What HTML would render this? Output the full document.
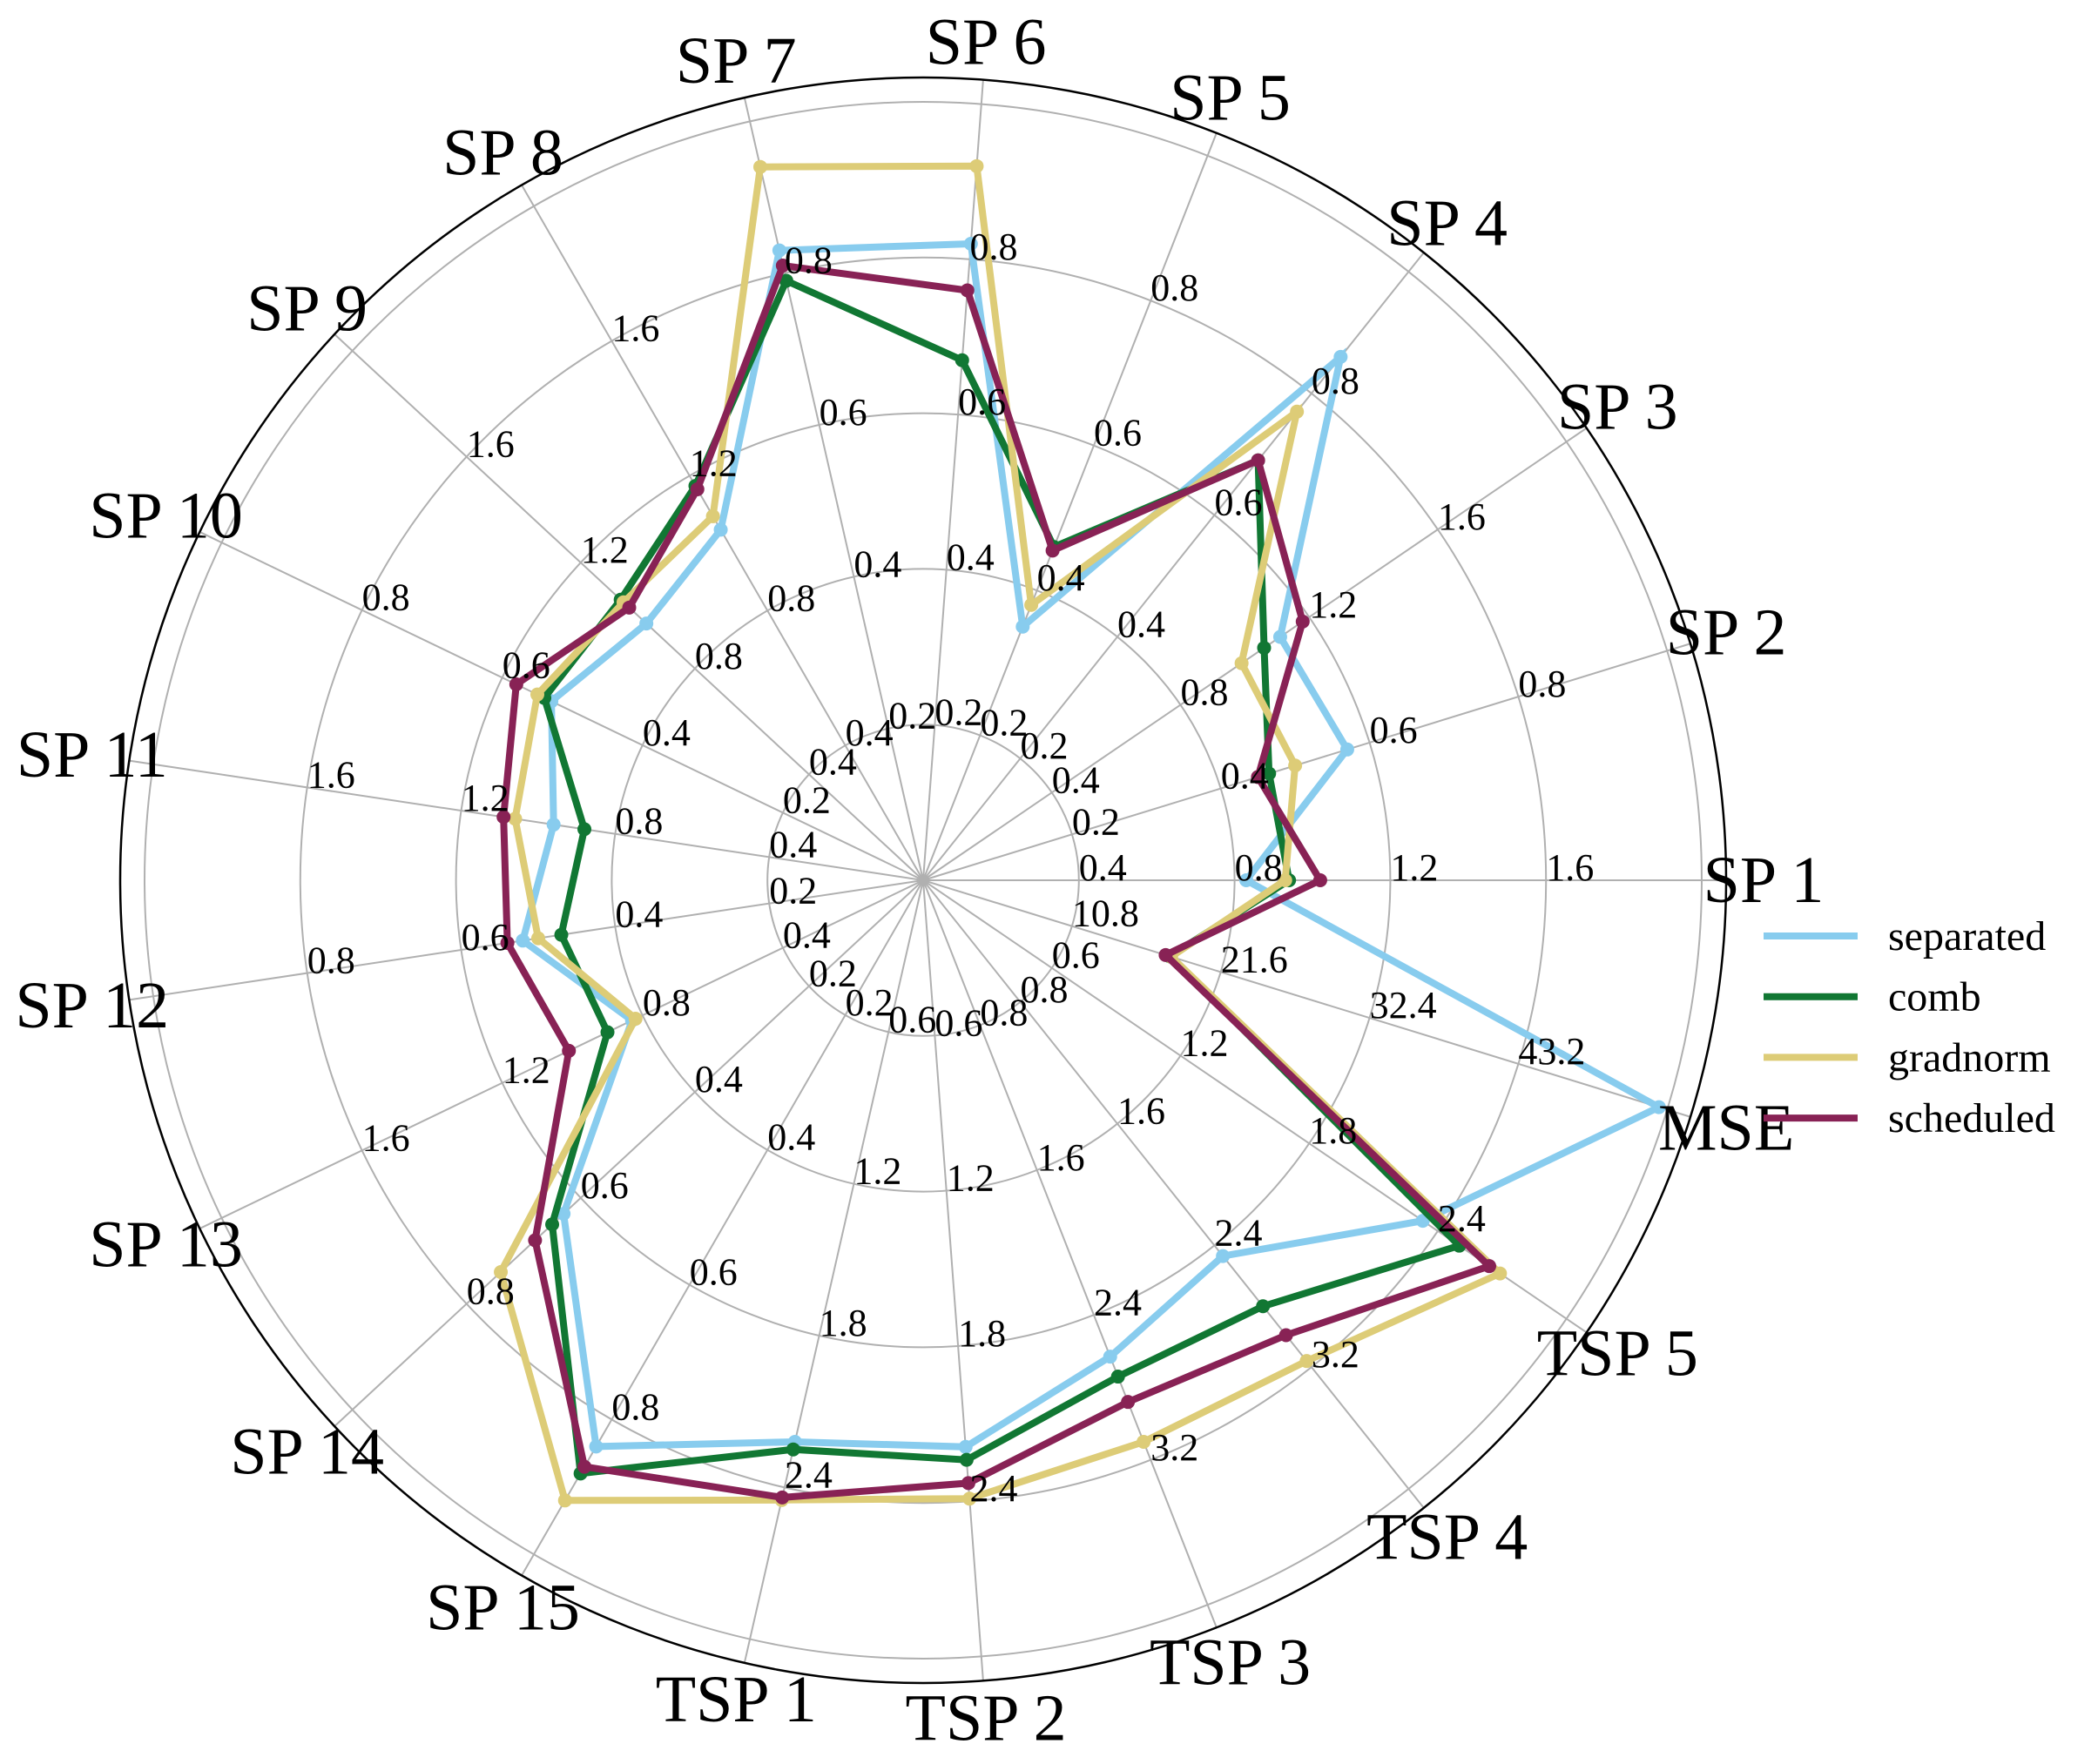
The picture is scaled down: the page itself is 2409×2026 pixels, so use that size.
<!DOCTYPE html>
<html><head><meta charset="utf-8"><style>
html,body{margin:0;padding:0;background:#fff;}
svg{display:block;font-family:"Liberation Serif",serif;}
</style></head><body>
<svg id="chart" width="2409" height="2026" viewBox="0 0 2409 2026" xmlns="http://www.w3.org/2000/svg">
<g id="grid"></g>
<g id="series"></g>
<g id="labels"></g>
<g id="legend"></g>
</svg>
<script>
const categories = ["SP 1","SP 2","SP 3","SP 4","SP 5","SP 6","SP 7","SP 8","SP 9","SP 10","SP 11","SP 12","SP 13","SP 14","SP 15","TSP 1","TSP 2","TSP 3","TSP 4","TSP 5","MSE"];
const tickUnits = [0.4,0.2,0.4,0.2,0.2,0.2,0.2,0.4,0.4,0.2,0.4,0.2,0.4,0.2,0.2,0.6,0.6,0.8,0.8,0.6,10.8];
const tickLabels = [
 ["0.4","0.8","1.2","1.6"],["0.2","0.4","0.6","0.8"],["0.4","0.8","1.2","1.6"],["0.2","0.4","0.6","0.8"],
 ["0.2","0.4","0.6","0.8"],["0.2","0.4","0.6","0.8"],["0.2","0.4","0.6","0.8"],["0.4","0.8","1.2","1.6"],
 ["0.4","0.8","1.2","1.6"],["0.2","0.4","0.6","0.8"],["0.4","0.8","1.2","1.6"],["0.2","0.4","0.6","0.8"],
 ["0.4","0.8","1.2","1.6"],["0.2","0.4","0.6","0.8"],["0.2","0.4","0.6","0.8"],["0.6","1.2","1.8","2.4"],
 ["0.6","1.2","1.8","2.4"],["0.8","1.6","2.4","3.2"],["0.8","1.6","2.4","3.2"],["0.6","1.2","1.8","2.4"],
 ["10.8","21.6","32.4","43.2"]];
const seriesNames = ["separated","comb","gradnorm","scheduled"];
const seriesColors = ["#88ccee","#117733","#ddcc77","#882255"];
const separated = [0.83,0.57,1.11,0.86,0.35,0.82,0.83,1.04,0.97,0.53,0.96,0.52,0.83,0.63,0.84,2.22,2.19,2.63,2.47,2.33,53.4];
const comb      = [0.94,0.465,1.06,0.69,0.46,0.67,0.79,1.17,1.06,0.54,0.88,0.47,0.90,0.65,0.88,2.25,2.24,2.74,2.80,2.50,17.9];
const gradnorm  = [0.93,0.50,0.99,0.77,0.38,0.92,0.94,1.08,1.05,0.55,1.06,0.50,0.82,0.74,0.92,2.45,2.39,3.10,3.16,2.69,18.0];
const scheduled = [1.02,0.45,1.18,0.69,0.455,0.76,0.81,1.16,1.03,0.58,1.09,0.54,1.01,0.68,0.87,2.44,2.33,2.88,2.99,2.64,17.6];
const seriesData = [separated, comb, gradnorm, scheduled];

const NS="http://www.w3.org/2000/svg";
const CX=1060, CY=1011, RING=178.8, OUTER=922, LABEL_R=965;
const N=categories.length;
function ang(i){return i*2*Math.PI/N;}
function rScale(i,v){return v/tickUnits[i]*RING;}
function pt(i,r){const a=ang(i);return [CX+r*Math.cos(a), CY-r*Math.sin(a)];}
function mk(tag,attrs,parent){const e=document.createElementNS(NS,tag);for(const k in attrs)e.setAttribute(k,attrs[k]);parent.appendChild(e);return e;}

const grid=document.getElementById('grid');
for(let k=1;k<=5;k++){
  const c=mk('circle',{cx:CX,cy:CY,r:RING*k,fill:'none',stroke:'#b0b0b0','stroke-width':2},grid);
  
  
}
for(let i=0;i<N;i++){
  const p=pt(i,OUTER);
  const l=mk('line',{x1:CX,y1:CY,x2:p[0],y2:p[1],stroke:'#b0b0b0','stroke-width':2},grid);
  
  
}
const oc=mk('circle',{cx:CX,cy:CY,r:OUTER,fill:'none',stroke:'#000','stroke-width':2.5},grid);



const labels=document.getElementById('labels');
for(let i=0;i<N;i++){
  for(let k=0;k<4;k++){
    const p=pt(i,RING*(k+1));
    const t=mk('text',{x:p[0],y:p[1],'font-size':44,fill:'#000'},labels);
    t.textContent=tickLabels[i][k];
    
    
  }
}

const sg=document.getElementById('series');
seriesData.forEach((vals,s)=>{
  const g=mk('g',{},sg);
  
  
  const pts=vals.map((v,i)=>pt(i,rScale(i,v)));
  const poly=mk('polygon',{points:pts.map(p=>p[0].toFixed(1)+','+p[1].toFixed(1)).join(' '),fill:'none',stroke:seriesColors[s],'stroke-width':8,'stroke-linejoin':'miter'},g);
  
  
  pts.forEach((p,i)=>{
    const c=mk('circle',{cx:p[0],cy:p[1],r:8,fill:seriesColors[s]},g);
    
    
  });
});

for(let i=0;i<N;i++){
  const p=pt(i,LABEL_R);
  const t=mk('text',{x:p[0],y:p[1],'font-size':76,'text-anchor':'middle','dominant-baseline':'central',fill:'#000'},labels);
  t.textContent=categories[i];
  
  
}

const lg=document.getElementById('legend');
seriesNames.forEach((n,s)=>{
  const y=1075+s*69.7;
  const g=mk('g',{},lg);
  
  
  mk('line',{x1:2025,y1:y,x2:2133,y2:y,stroke:seriesColors[s],'stroke-width':8},g);
  const t=mk('text',{x:2168,y:y+16,'font-size':48,fill:'#000'},g);
  t.textContent=n;
});
</script>
</body></html>
